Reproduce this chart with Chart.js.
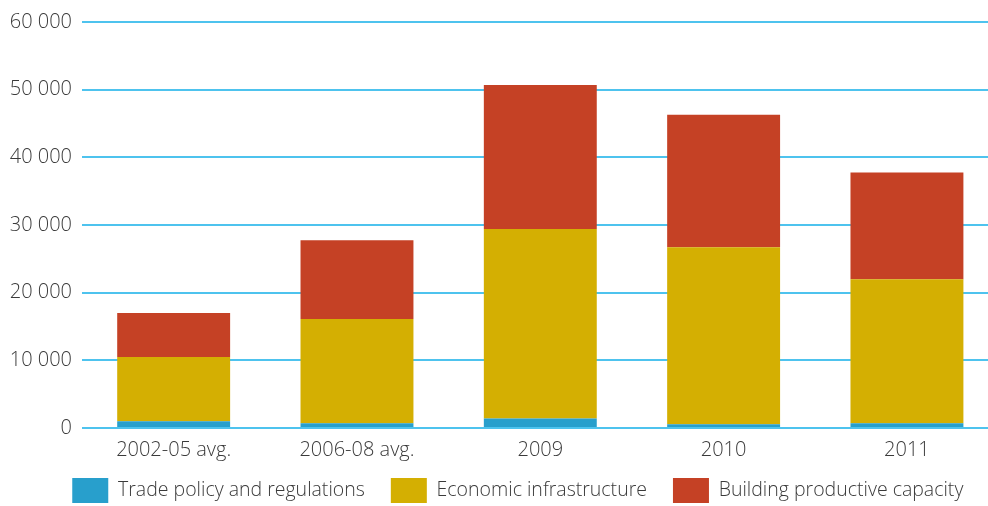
<!DOCTYPE html>
<html>
<head>
<meta charset="utf-8">
<script src="https://cdn.jsdelivr.net/npm/chart.js@4.4.1/dist/chart.umd.min.js"></script>
<style>
  html, body { margin: 0; padding: 0; background: #fff; overflow: hidden; }
  #wrap { position: absolute; left: 0; top: 0; width: 1036px; height: 506px; }
</style>
</head>
<body>
<div id="wrap"><canvas id="c" width="1036" height="506"></canvas></div>
<script>
const categories = ["2002-05 avg.", "2006-08 avg.", "2009", "2010", "2011"];
const tradePolicy = [1000, 700, 1400, 550, 700];
const economicInfrastructure = [9500, 15400, 28000, 26150, 21300];
const productiveCapacity = [6500, 11650, 21300, 19600, 15750];
const seriesNames = ["Trade policy and regulations", "Economic infrastructure", "Building productive capacity"];
const yTicks = [0, 10000, 20000, 30000, 40000, 50000, 60000];

const fontFamily = "'Open Sans', 'Noto Sans', sans-serif";
const textColor = '#3a3a3a';

const legendPlacePlugin = {
  id: 'legendPlace',
  afterInit(chart) {
    const lg = chart.legend;
    if (!lg) return;
    const orig = lg.fit.bind(lg);
    lg.fit = function () { orig(); this.height = 44; if (this.minSize) this.minSize.height = 44; };
  },
  afterLayout(chart) {
    const lg = chart.legend;
    if (!lg) return;
    lg.left += 37;
    lg.top -= 10;
    lg.width = lg.right - lg.left;
    lg.height = lg.bottom - lg.top;
  }
};

new Chart(document.getElementById('c'), {
  type: 'bar',
  data: {
    labels: categories,
    datasets: [
      { label: seriesNames[0], data: tradePolicy, backgroundColor: '#289fcc' },
      { label: seriesNames[1], data: economicInfrastructure, backgroundColor: '#d4af02' },
      { label: seriesNames[2], data: productiveCapacity, backgroundColor: '#c54125' }
    ]
  },
  plugins: [legendPlacePlugin],
  options: {
    responsive: false,
    animation: false,
    layout: { padding: { top: 20, right: 37.4, left: 0, bottom: 0 } },
    datasets: { bar: { barPercentage: 0.616, categoryPercentage: 1, borderWidth: 0 } },
    scales: {
      x: {
        stacked: true,
        afterFit: s => { s.height = 34; },
        grid: { display: false, drawTicks: false },
        border: { display: false },
        ticks: { color: textColor, font: { family: fontFamily, size: 20, weight: '300' }, padding: 10 }
      },
      y: {
        stacked: true,
        min: 0, max: 60000,
        afterBuildTicks: s => { s.ticks = yTicks.map(v => ({ value: v })); },
        afterFit: s => { s.width = 82; },
        grid: { color: '#4ec3ee', lineWidth: 2, drawTicks: false },
        border: { display: false },
        ticks: {
          color: textColor, padding: 10,
          font: { family: fontFamily, size: 20, weight: '300' },
          callback: v => String(v).replace(/\B(?=(\d{3})+(?!\d))/g, ' ')
        }
      }
    },
    plugins: {
      legend: {
        position: 'bottom',
        labels: {
          boxWidth: 36, boxHeight: 25, padding: 26,
          color: textColor, font: { family: fontFamily, size: 19.5, weight: '300' }
        }
      },
      tooltip: { enabled: false }
    }
  }
});
</script>
</body>
</html>
